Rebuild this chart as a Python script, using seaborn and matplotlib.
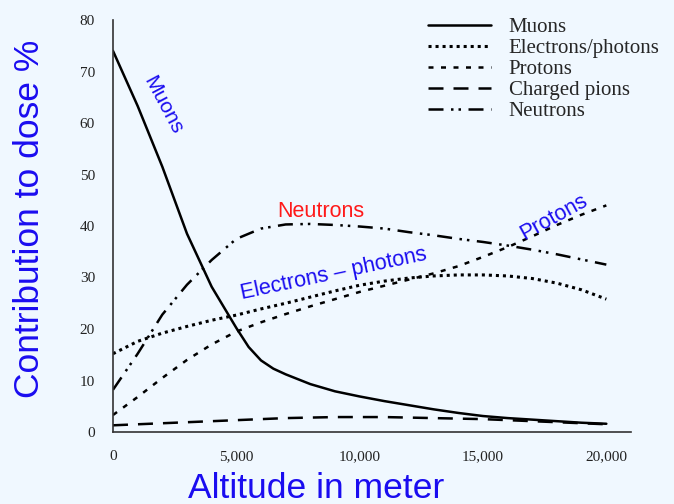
import matplotlib
matplotlib.use("Agg")
import matplotlib.pyplot as plt
import seaborn as sns
import pandas as pd

# values (percent of dose vs altitude)
altitude = [0, 1000, 2000, 3000, 4000, 5000, 6000, 7000, 8000, 9000, 10000,
            11000, 12000, 13000, 14000, 15000, 16000, 17000, 18000, 19000, 20000]
# muons are read a bit more densely around the bend
muon_altitude = [0, 1000, 2000, 3000, 4000, 5000, 5500, 6000, 6500, 7000, 8000,
                 9000, 10000, 11000, 12000, 13000, 14000, 15000, 16000, 17000,
                 18000, 19000, 20000]
muons = [74, 63.3, 51.5, 38.5, 28.2, 20.2, 16.5, 13.9, 12.3, 11.2, 9.3,
         7.9, 6.9, 6.0, 5.2, 4.4, 3.7, 3.1, 2.7, 2.4, 2.1, 1.8, 1.6]
electrons = [15.2, 17.6, 19.2, 20.5, 21.7, 22.7, 23.9, 25.0, 26.2, 27.4, 28.5,
             29.3, 29.9, 30.3, 30.5, 30.5, 30.3, 29.8, 28.9, 27.6, 25.8]
protons = [3.3, 6.8, 10.5, 14.0, 17.0, 19.5, 21.3, 22.9, 24.4, 25.8, 27.2,
           28.4, 29.6, 30.8, 32.2, 34.0, 35.9, 38.0, 40.2, 42.2, 44.0]
pions = [1.3, 1.5, 1.7, 1.9, 2.1, 2.3, 2.5, 2.7, 2.8, 2.9, 2.9,
         2.9, 2.8, 2.7, 2.6, 2.5, 2.3, 2.1, 1.9, 1.7, 1.5]
neutrons = [8.2, 15.2, 22.8, 28.6, 33.4, 37.5, 39.5, 40.3, 40.4, 40.2, 39.9,
            39.5, 38.8, 38.2, 37.5, 36.9, 36.2, 35.4, 34.5, 33.5, 32.5]

series_names = ["Muons", "Electrons/photons", "Protons", "Charged pions", "Neutrons"]
x_ticks = [0, 5000, 10000, 15000, 20000]
x_ticklabels = ["0", "5,000", "10,000", "15,000", "20,000"]
y_ticks = [0, 10, 20, 30, 40, 50, 60, 70, 80]

bg = "#F0F8FF"
blue = "#1a0cf0"

sns.set_style("white", {"axes.facecolor": bg, "figure.facecolor": bg})
plt.rcParams["font.family"] = ["Liberation Sans", "DejaVu Sans"]

series = {
    "Muons": (muon_altitude, muons),
    "Electrons/photons": (altitude, electrons),
    "Protons": (altitude, protons),
    "Charged pions": (altitude, pions),
    "Neutrons": (altitude, neutrons),
}
df = pd.concat(
    [pd.DataFrame({"altitude": xs, "dose": ys, "particle": name})
     for name, (xs, ys) in series.items()],
    ignore_index=True,
)

fig = plt.figure(figsize=(6.74, 5.04), dpi=100)
ax = fig.add_axes([113 / 674, 72 / 504, 518 / 674, 412 / 504])

styles = {
    "Muons": dict(linestyle="-", linewidth=1.8),
    "Electrons/photons": dict(linestyle=(0, (1.0, 1.3)), linewidth=2.2),
    "Protons": dict(linestyle=(0, (2, 3)), linewidth=1.8),
    "Charged pions": dict(linestyle=(0, (6, 4)), linewidth=1.8),
    "Neutrons": dict(linestyle=(0, (6, 3, 1, 2, 1, 3)), linewidth=1.8),
}
for name in series_names:
    sns.lineplot(data=df[df["particle"] == name], x="altitude", y="dose",
                 ax=ax, color="black", label=name, **styles[name])

ax.set_xlim(0, 21000)
ax.set_ylim(0, 80)
ax.set_xticks(x_ticks)
ax.set_xticklabels(x_ticklabels)
ax.set_yticks(y_ticks)
ax.tick_params(axis="both", length=0, labelsize=11, colors="#222222")
ax.tick_params(axis="x", pad=13)
ax.tick_params(axis="y", pad=13)
for lab in ax.get_xticklabels() + ax.get_yticklabels():
    lab.set_family("Liberation Serif")

for side in ["top", "right"]:
    ax.spines[side].set_visible(False)
for side in ["left", "bottom"]:
    ax.spines[side].set_color("#333333")
    ax.spines[side].set_linewidth(1.2)

ax.set_xlabel("")
ax.set_ylabel("")
fig.text(316 / 674, 1 - 489 / 504, "Altitude in meter", color=blue,
         fontsize=25.5, ha="center", va="center")
fig.text(30 / 674, 1 - 219 / 504, "Contribution to dose %", color=blue,
         fontsize=25.5, ha="center", va="center", rotation=90)

# in-plot curve labels
ax.text(2030, 63.5, "Muons", color=blue, fontsize=15, rotation=-62,
        ha="center", va="center")
ax.text(8410, 42.9, "Neutrons", color="#ff1a1a", fontsize=15.5,
        ha="center", va="center")
ax.text(8950, 30.6, "Electrons \u2013 photons", color=blue, fontsize=15.5,
        rotation=12, ha="center", va="center")
ax.text(17890, 41.7, "Protons", color=blue, fontsize=15.5, rotation=29,
        ha="center", va="center")

ax.legend(loc="upper left", bbox_to_anchor=(418 / 674, 1 - 7 / 504),
          bbox_transform=fig.transFigure, frameon=False, borderpad=0,
          handlelength=3.0, handletextpad=0.85, labelspacing=0.07,
          prop={"family": "Liberation Serif", "size": 15})

fig.savefig("out.png", dpi=100, facecolor=bg)
